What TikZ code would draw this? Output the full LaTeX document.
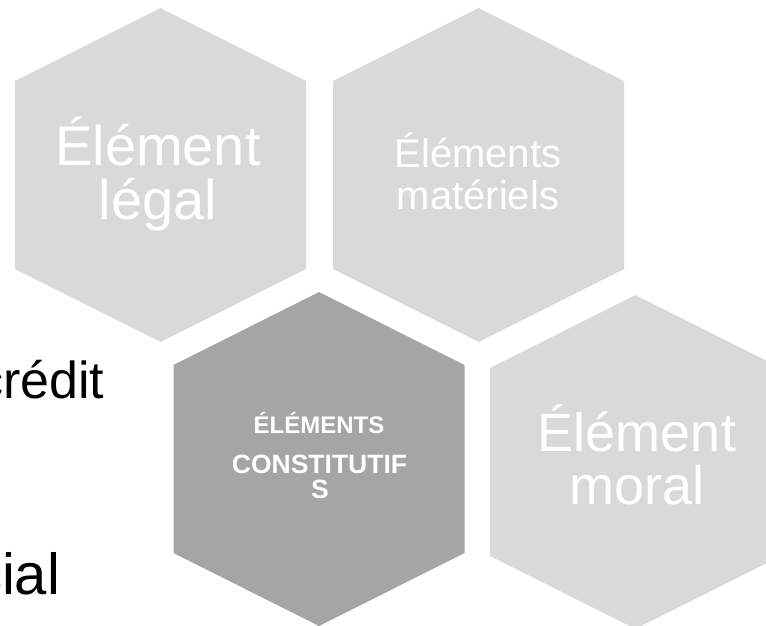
\documentclass[tikz,border=0pt]{standalone}
\usepackage{fontspec}
\setmainfont{Liberation Sans}
\definecolor{hexlight}{HTML}{D9D9D9}
\definecolor{hexdark}{HTML}{A5A5A5}
\begin{document}
\begin{tikzpicture}[x=1pt,y=-1pt,
  hexcell/.pic={\fill[pic actions] (0,-167) -- (145.5,-94) -- (145.5,94) -- (0,167)
                 -- (-145.5,94) -- (-145.5,-94) -- cycle;},
  celltext/.style={inner sep=0pt, outer sep=0pt, anchor=base, text=white},
  bigtext/.style={celltext, font=\fontsize{56}{56}\selectfont},
  midtext/.style={celltext, font=\fontsize{40}{40}\selectfont},
  boldtext/.style={celltext, font=\bfseries\fontsize{#1}{#1}\selectfont},
  slidetext/.style={inner sep=0pt, outer sep=0pt, anchor=base west, text=black,
                    font=\fontsize{#1}{#1}\selectfont}]
\useasboundingbox (0,0) rectangle (766,626);
\clip (0,0) rectangle (766,626);

% slide text partly hidden on the left
\node[slidetext=52] (credit) at (-23,398) {crédit};
\node[slidetext=58] (cial) at (-27,594) {cial};

% hexagon cells
\pic[fill=hexlight] at (160.5,175) {hexcell};
\pic[fill=hexlight] at (478.5,175) {hexcell};
\pic[fill=hexdark]  at (319,459)   {hexcell};
\pic[fill=hexlight] at (635.5,462) {hexcell};

% cell labels
\node[bigtext] (legalA) at (158,165) {Élément};
\node[bigtext] (legalB) at (158,219) {légal};

\node[midtext] (matA) at (478,167) {Éléments};
\node[midtext] (matB) at (478,209) {matériels};

\node[boldtext=24]   (consA) at (319,433) {ÉLÉMENTS};
\node[boldtext=26.5] (consB) at (319.5,473) {CONSTITUTIF};
\node[boldtext=26.5] (consC) at (320,498) {S};

\node[bigtext, font=\fontsize{54}{54}\selectfont] (moralA) at (637,451) {Élément};
\node[bigtext, font=\fontsize{54}{54}\selectfont] (moralB) at (637,504) {moral};
\end{tikzpicture}
\end{document}
